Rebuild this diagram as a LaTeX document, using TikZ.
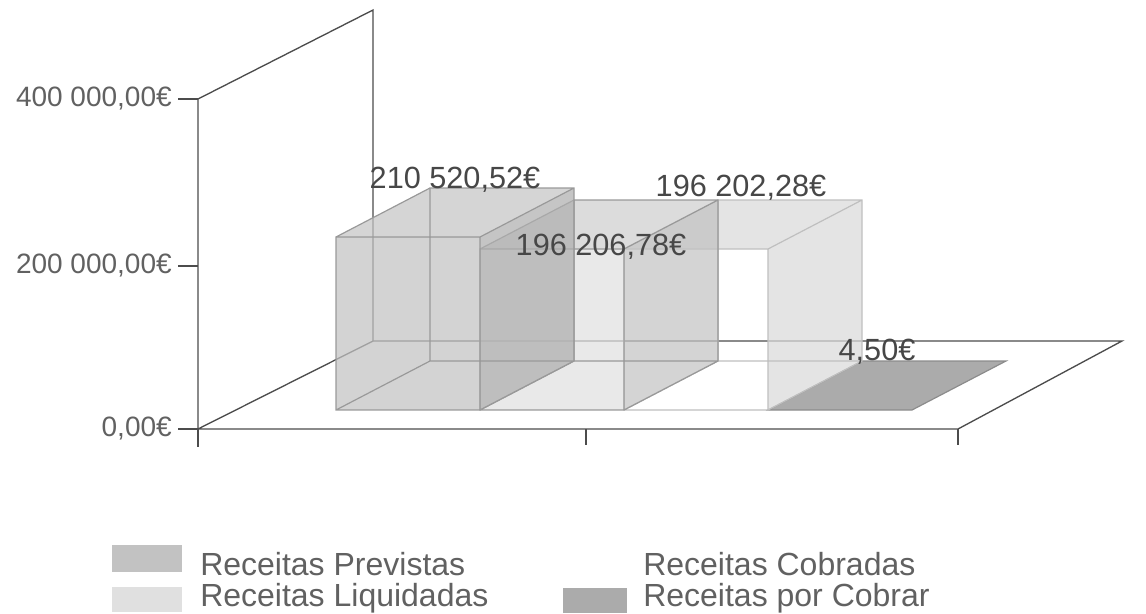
\documentclass[tikz,border=0pt]{standalone}
\usepackage{fontspec}
\setmainfont{Liberation Sans}
\usetikzlibrary{positioning}

\definecolor{previstas}{HTML}{C2C2C2}
\definecolor{liquidadas}{HTML}{E0E0E0}
\definecolor{cobradas}{HTML}{DADADA}
\definecolor{porcobrar}{HTML}{ABABAB}

\begin{document}
\begin{tikzpicture}[
x=0.75pt,y=-0.75pt,
frame/.style={
	% The lines of the chart frame
	draw=black!70, line width=1pt},
baredge/.style={
	% The edges of a box, hidden ones included
	draw=black!40, line width=0.9pt},
face/.style={
	% A side of a box, so that the back shows through
	fill opacity=0.72, draw=none},
ticklabel/.style={
	font=\fontsize{21}{21}\selectfont,
	text=black!62, anchor=east, inner sep=0pt},
value/.style={
	font=\fontsize{23}{23}\selectfont,
	text=black!72, inner sep=0pt},
legend/.style={
	font=\fontsize{24}{24}\selectfont,
	text=black!62, anchor=base west, inner sep=0pt},
]
\useasboundingbox (0,0) rectangle (1146,614);

% the frame: wall and floor
\coordinate (top) at (198,99);
\coordinate (topback) at (373,10);
\coordinate (origin) at (198,429);
\coordinate (originback) at (373,341);
\coordinate (end) at (958,429);
\coordinate (endback) at (1122,341);
\draw[frame] (top) -- (origin) -- (end) -- (endback) -- (originback) -- (origin);
\draw[frame] (originback) -- (topback) -- (top);

% ticks
\draw[frame] (178,99) -- (top);
\draw[frame] (178,266) -- (198,266);
\draw[frame] (178,429) -- (origin) -- (198,447);
\draw[frame] (586,429) -- (586,445);
\draw[frame] (end) -- (958,445);

\node[ticklabel] (y400) at (172,99) {400 000,00€};
\node[ticklabel] (y200) at (172,266) {200 000,00€};
\node[ticklabel] (y0) at (172,429) {0,00€};

% boxes from right to left, so a right side lies over its neighbour
% Receitas por Cobrar
\coordinate (b4) at (768,410);
\filldraw[fill=porcobrar,draw=black!45,line width=0.9pt] (b4) -- ++(144,0) -- ++(94,-49) -- ++(-144,0) -- cycle;

% Receitas Cobradas
\coordinate (b3) at (624,410);
\fill[face,cobradas] (b3) ++(0,-161) -- ++(144,0) -- ++(94,-49) -- ++(-144,0) -- cycle;
\fill[face,cobradas] (b3) ++(144,0) -- ++(94,-49) -- ++(0,-161) -- ++(-94,49) -- cycle;
\draw[baredge,draw=black!25] (b3) rectangle ++(144,-161) (b3) ++(94,-49) rectangle ++(144,-161)
	(b3) -- ++(94,-49) (b3) ++(144,0) -- ++(94,-49)
	(b3) ++(0,-161) -- ++(94,-49) (b3) ++(144,-161) -- ++(94,-49);

% Receitas Liquidadas
\coordinate (b2) at (480,410);
\fill[face,liquidadas] (b2) rectangle ++(144,-161);
\fill[face,liquidadas!92!black] (b2) ++(0,-161) -- ++(144,0) -- ++(94,-49) -- ++(-144,0) -- cycle;
\fill[face,liquidadas!87!black] (b2) ++(144,0) -- ++(94,-49) -- ++(0,-161) -- ++(-94,49) -- cycle;
\draw[baredge] (b2) rectangle ++(144,-161) (b2) ++(94,-49) rectangle ++(144,-161)
	(b2) -- ++(94,-49) (b2) ++(144,0) -- ++(94,-49)
	(b2) ++(0,-161) -- ++(94,-49) (b2) ++(144,-161) -- ++(94,-49);

% Receitas Previstas
\coordinate (b1) at (336,410);
\fill[face,previstas] (b1) rectangle ++(144,-173);
\fill[face,previstas!95!white] (b1) ++(0,-173) -- ++(144,0) -- ++(94,-49) -- ++(-144,0) -- cycle;
\fill[face,previstas!90!black] (b1) ++(144,0) -- ++(94,-49) -- ++(0,-173) -- ++(-94,49) -- cycle;
\draw[baredge] (b1) rectangle ++(144,-173) (b1) ++(94,-49) rectangle ++(144,-173)
	(b1) -- ++(94,-49) (b1) ++(144,0) -- ++(94,-49)
	(b1) ++(0,-173) -- ++(94,-49) (b1) ++(144,-173) -- ++(94,-49);

% values
\node[value] (v1) at (455,180) {210 520,52€};
\node[value] (v2) at (601,247) {196 206,78€};
\node[value] (v3) at (741,188) {196 202,28€};
\node[value] (v4) at (877,352) {4,50€};

% legend
\fill[previstas] (112,545) rectangle (182,572);
\node[legend] (previstas) at (200,575) {Receitas Previstas};
\fill[liquidadas] (112,587) rectangle (182,612);
\node[legend] (liquidadas) at (200,606) {Receitas Liquidadas};
\node[legend] (cobradas) at (643,575) {Receitas Cobradas};
\fill[porcobrar] (563,588) rectangle (627,613);
\node[legend] (porcobrar) at (643,606) {Receitas por Cobrar};
\end{tikzpicture}
\end{document}
